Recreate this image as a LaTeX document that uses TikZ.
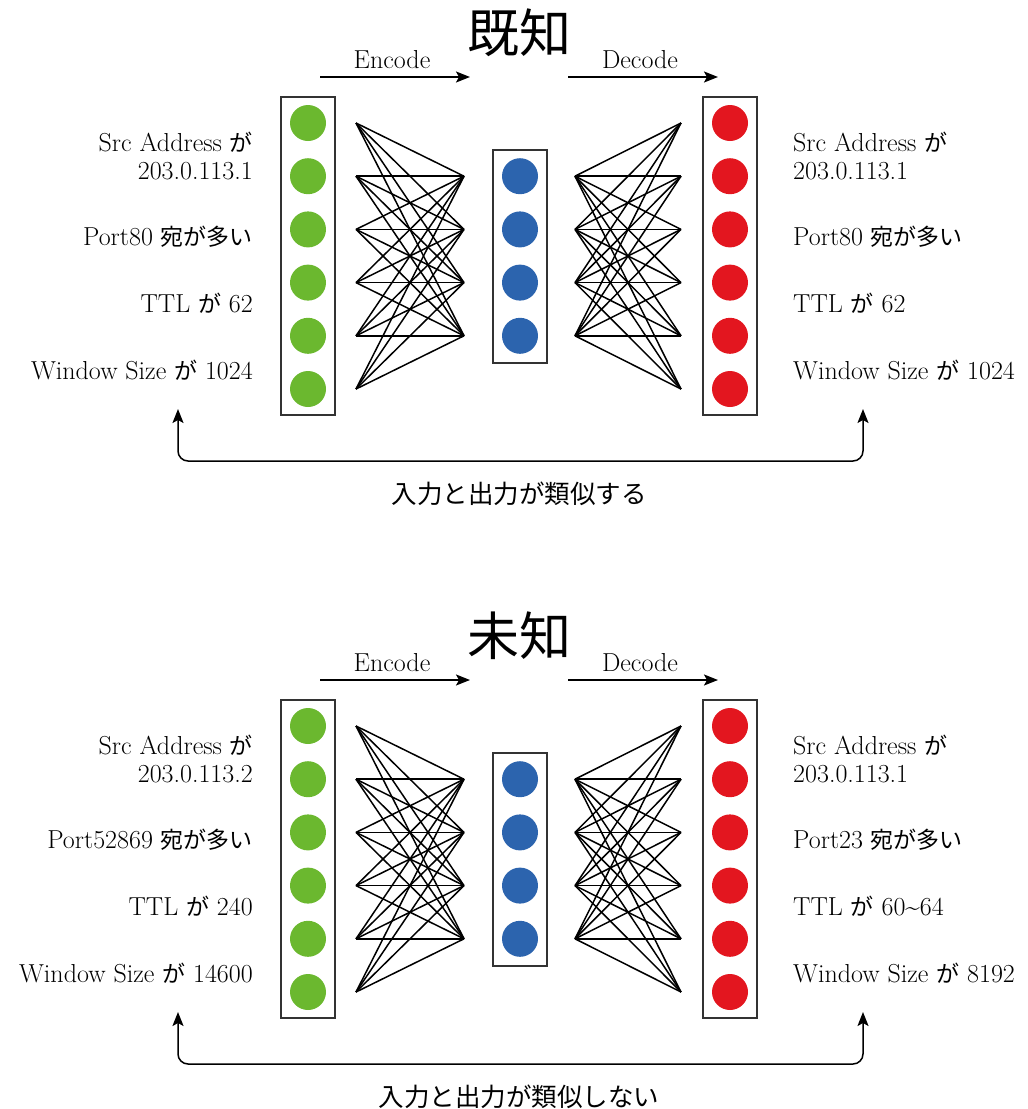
\documentclass[tikz,border=0pt]{standalone}
\usepackage{fontspec}
\newfontfamily\jp{Noto Sans CJK JP}
\newcommand\jpl[1]{{\jp\fontsize{23}{28}\selectfont #1}}
\usetikzlibrary{arrows.meta}
\definecolor{ngreen}{HTML}{6BB82F}
\definecolor{nblue}{HTML}{2C64AE}
\definecolor{nred}{HTML}{E3161F}
\definecolor{boxc}{HTML}{333333}
\begin{document}
\begin{tikzpicture}[x=1pt,y=-1pt,
  layerbox/.style={draw=boxc, line width=1.6pt, inner sep=0pt},
  neuron/.style={circle, minimum size=36pt, inner sep=0pt},
  wire/.style={line width=1.5pt},
  lbl/.style={font=\fontsize{26}{28}\selectfont, inner sep=0pt},
  titlefont/.style={font=\jp\fontsize{52}{52}\selectfont, inner sep=0pt},
  bottomfont/.style={font=\jp\fontsize{25.5}{25.5}\selectfont, inner sep=0pt},
  arr/.style={line width=1.5pt, -{Stealth[length=14pt,width=11pt,inset=3pt]}},
  fb/.style={line width=1.5pt, {Stealth[length=14pt,width=11pt,inset=3pt]}-{Stealth[length=14pt,width=11pt,inset=3pt]}, rounded corners=10pt}
]
\useasboundingbox (0,0) rectangle (1028,1109);

% ---------- panel A (known) ----------
\node[titlefont] (aT) at (519,33) {既知};
\node[lbl] (aEnc) at (392,60) {Encode};
\node[lbl] (aDec) at (640,60) {Decode};
\coordinate (aEa) at (320,77); \coordinate (aEb) at (470,77);
\coordinate (aDa) at (568,77); \coordinate (aDb) at (718,77);
\draw[arr] (aEa) -- (aEb);
\draw[arr] (aDa) -- (aDb);

\node[layerbox, minimum width=54pt, minimum height=318pt] (aLbox) at (308,256) {};
\node[layerbox, minimum width=54pt, minimum height=213pt] (aMbox) at (520,256.5) {};
\node[layerbox, minimum width=54pt, minimum height=318pt] (aRbox) at (730,256) {};

\foreach \i in {0,...,5} {
  \node[neuron, fill=ngreen] (aL\i) at (308,{123+53.2*\i}) {};
  \node[neuron, fill=nred] (aR\i) at (730,{123+53.2*\i}) {};
  \coordinate (aEl\i) at (356,{123+53.2*\i});
  \coordinate (aDr\i) at (681,{123+53.2*\i});
}
\foreach \j in {1,...,4} {
  \node[neuron, fill=nblue] (aM\j) at (520,{123+53.2*\j}) {};
  \coordinate (aEr\j) at (464,{123+53.2*\j});
  \coordinate (aDl\j) at (575,{123+53.2*\j});
}
\foreach \i in {0,...,5} {
  \foreach \j in {1,...,4} {
    \draw[wire] (aEl\i) -- (aEr\j);
    \draw[wire] (aDl\j) -- (aDr\i);
  }
}

\node[lbl, anchor=east, align=right] (aL1t) at (253,156) {Src Address \jpl{が}\\203.0.113.1};
\node[lbl, anchor=east] (aL2t) at (253,237) {Port80 \jpl{宛が多い}};
\node[lbl, anchor=east] (aL3t) at (253,303) {TTL \jpl{が} 62};
\node[lbl, anchor=east] (aL4t) at (253,370) {Window Size \jpl{が} 1024};

\node[lbl, anchor=west, align=left] (aR1t) at (793,156) {Src Address \jpl{が}\\203.0.113.1};
\node[lbl, anchor=west] (aR2t) at (793,237) {Port80 \jpl{宛が多い}};
\node[lbl, anchor=west] (aR3t) at (793,303) {TTL \jpl{が} 62};
\node[lbl, anchor=west] (aR4t) at (793,370) {Window Size \jpl{が} 1024};

\coordinate (aFl) at (178,409); \coordinate (aFr) at (863,409);
\draw[fb] (aFl) -- (178,461) -- (863,461) -- (aFr);
\node[bottomfont] (aBot) at (519,494) {入力と出力が類似する};

% ---------- panel B (unknown) ----------
\begin{scope}[yshift=-603pt]
\node[titlefont] (bT) at (519,33) {未知};
\node[lbl] (bEnc) at (392,60) {Encode};
\node[lbl] (bDec) at (640,60) {Decode};
\coordinate (bEa) at (320,77); \coordinate (bEb) at (470,77);
\coordinate (bDa) at (568,77); \coordinate (bDb) at (718,77);
\draw[arr] (bEa) -- (bEb);
\draw[arr] (bDa) -- (bDb);

\node[layerbox, minimum width=54pt, minimum height=318pt] (bLbox) at (308,256) {};
\node[layerbox, minimum width=54pt, minimum height=213pt] (bMbox) at (520,256.5) {};
\node[layerbox, minimum width=54pt, minimum height=318pt] (bRbox) at (730,256) {};

\foreach \i in {0,...,5} {
  \node[neuron, fill=ngreen] (bL\i) at (308,{123+53.2*\i}) {};
  \node[neuron, fill=nred] (bR\i) at (730,{123+53.2*\i}) {};
  \coordinate (bEl\i) at (356,{123+53.2*\i});
  \coordinate (bDr\i) at (681,{123+53.2*\i});
}
\foreach \j in {1,...,4} {
  \node[neuron, fill=nblue] (bM\j) at (520,{123+53.2*\j}) {};
  \coordinate (bEr\j) at (464,{123+53.2*\j});
  \coordinate (bDl\j) at (575,{123+53.2*\j});
}
\foreach \i in {0,...,5} {
  \foreach \j in {1,...,4} {
    \draw[wire] (bEl\i) -- (bEr\j);
    \draw[wire] (bDl\j) -- (bDr\i);
  }
}

\node[lbl, anchor=east, align=right] (bL1t) at (253,156) {Src Address \jpl{が}\\203.0.113.2};
\node[lbl, anchor=east] (bL2t) at (253,237) {Port52869 \jpl{宛が多い}};
\node[lbl, anchor=east] (bL3t) at (253,303) {TTL \jpl{が} 240};
\node[lbl, anchor=east] (bL4t) at (253,370) {Window Size \jpl{が} 14600};

\node[lbl, anchor=west, align=left] (bR1t) at (793,156) {Src Address \jpl{が}\\203.0.113.1};
\node[lbl, anchor=west] (bR2t) at (793,237) {Port23 \jpl{宛が多い}};
\node[lbl, anchor=west] (bR3t) at (793,303) {TTL \jpl{が} 60\textasciitilde 64};
\node[lbl, anchor=west] (bR4t) at (793,370) {Window Size \jpl{が} 8192};

\coordinate (bFl) at (178,409); \coordinate (bFr) at (863,409);
\draw[fb] (bFl) -- (178,461) -- (863,461) -- (bFr);
\node[bottomfont] (bBot) at (519,494) {入力と出力が類似しない};
\end{scope}
\end{tikzpicture}
\end{document}
